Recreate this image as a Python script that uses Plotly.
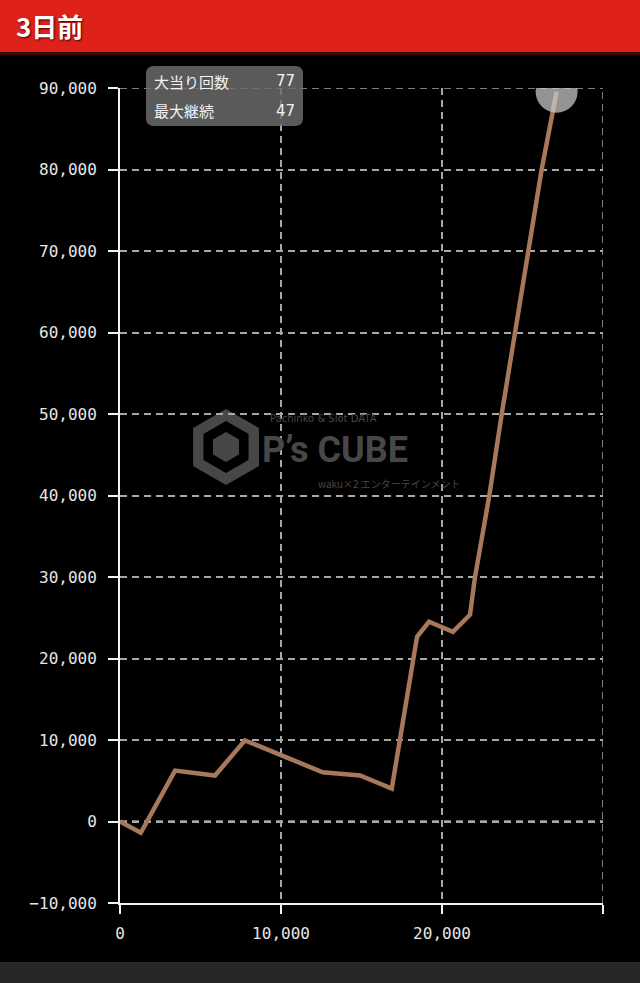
import plotly.graph_objects as go

# ---- data ----
games = [0, 1290, 3420, 5900, 7760, 12590, 14910, 16880, 18450, 19190, 20680, 21740,
         22050, 22940, 23710, 24530, 25340, 26190, 27120]
balance = [0, -1380, 6250, 5640, 9960, 6040, 5640, 4040, 22670, 24510, 23280, 25370,
           30000, 40000, 50000, 60000, 70000, 80000, 89550]
title_text = "3日前"
info_labels = ["大当り回数", "最大継続"]
info_values = ["77", "47"]
x_ticks = [0, 10000, 20000, 30000]
x_tick_text = ["0", "10,000", "20,000", ""]
y_ticks = [-10000, 0, 10000, 20000, 30000, 40000, 50000, 60000, 70000, 80000, 90000]
x_max, y_min, y_max = 30000, -10000, 90000

W, H = 640, 983
L, R, T, B = 120, 603, 88, 903


def px(p):
    return (p - L) / (R - L)


def py(p):
    return (B - p) / (B - T)


def rrect(x0, y0, x1, y1, r):
    rx = r / (R - L)
    ry = r / (B - T)
    X0, X1 = px(x0), px(x1)
    Y0, Y1 = py(y0), py(y1)
    return (f"M {X0+rx},{Y0} L {X1-rx},{Y0} Q {X1},{Y0} {X1},{Y0-ry} "
            f"L {X1},{Y1+ry} Q {X1},{Y1} {X1-rx},{Y1} L {X0+rx},{Y1} "
            f"Q {X0},{Y1} {X0},{Y1+ry} L {X0},{Y0-ry} Q {X0},{Y0} {X0+rx},{Y0} Z")


def hexagon(cx, cy, rad):
    import math
    pts = []
    for k in range(6):
        a = math.radians(90 + 60 * k)
        pts.append((px(cx + rad * math.cos(a)), py(cy - rad * math.sin(a))))
    return "M " + " L ".join(f"{a},{b}" for a, b in pts) + " Z"


fig = go.Figure()
fig.add_trace(go.Scatter(
    x=games, y=balance, mode="lines",
    line=dict(color="#a8785a", width=4.5),
    hoverinfo="skip", showlegend=False,
))
fig.add_trace(go.Scatter(
    x=[games[-1]], y=[balance[-1]], mode="markers", cliponaxis=True,
    marker=dict(size=42, color="rgba(205,205,205,0.72)", line=dict(width=0)),
    hoverinfo="skip", showlegend=False,
))

grid_col = "#a8a8a8"
axis_font = dict(family="DejaVu Sans Mono", size=16, color="#e6e6e6")
fig.update_xaxes(
    range=[0, x_max], tickvals=x_ticks, ticktext=x_tick_text,
    showgrid=True, gridcolor=grid_col, gridwidth=1.5, griddash="7px,5px",
    zeroline=False, showline=True, linecolor="#f2f2f2", linewidth=2,
    ticks="outside", ticklen=9, tickwidth=2, tickcolor="#f2f2f2",
    tickfont=axis_font, ticklabelstandoff=6, fixedrange=True,
)
fig.update_yaxes(
    range=[y_min, y_max], tickvals=y_ticks, tickformat=",",
    showgrid=True, gridcolor=grid_col, gridwidth=1.5, griddash="7px,5px",
    zeroline=False, showline=True, linecolor="#f2f2f2", linewidth=2,
    ticks="outside", ticklen=10, tickwidth=2, tickcolor="#f2f2f2",
    tickfont=axis_font, ticklabelstandoff=8, fixedrange=True,
)

wm = "#474747"
shapes = [
    dict(type="rect", xref="paper", yref="paper", x0=px(0), x1=px(W), y0=py(52), y1=py(0),
         fillcolor="#df2219", line=dict(width=0), layer="above"),
    dict(type="rect", xref="paper", yref="paper", x0=px(0), x1=px(W), y0=py(55), y1=py(52),
         fillcolor="#3a0a08", line=dict(width=0), layer="above"),
    # keep the end marker clipped at the top of the plot area
    dict(type="rect", xref="paper", yref="paper", x0=px(520), x1=px(600), y0=py(87.2), y1=py(55),
         fillcolor="#000000", line=dict(width=0), layer="above"),
    dict(type="rect", xref="paper", yref="paper", x0=px(0), x1=px(W), y0=py(H), y1=py(962),
         fillcolor="#272727", line=dict(width=0), layer="above"),
    # grid lines at the range edges (plotly omits them)
    dict(type="line", xref="paper", yref="y", x0=0, x1=1, y0=y_max, y1=y_max,
         line=dict(color=grid_col, width=1.5, dash="7px,5px"), layer="below"),
    dict(type="line", xref="x", yref="paper", x0=x_max, x1=x_max, y0=0, y1=1,
         line=dict(color=grid_col, width=1.5, dash="7px,5px"), layer="below"),
    dict(type="line", xref="paper", yref="y", x0=0, x1=1, y0=0, y1=0,
         line=dict(color="#f0f0f0", width=2, dash="7px,5px"), layer="below"),
    dict(type="path", xref="paper", yref="paper", path=hexagon(226, 447, 38),
         fillcolor=wm, line=dict(width=0), layer="below"),
    dict(type="path", xref="paper", yref="paper", path=hexagon(226, 447, 26),
         fillcolor="#000000", line=dict(width=0), layer="below"),
    dict(type="path", xref="paper", yref="paper", path=hexagon(226, 447, 15),
         fillcolor=wm, line=dict(width=0), layer="below"),
    dict(type="path", xref="paper", yref="paper", path=rrect(146, 66, 303, 126, 8),
         fillcolor="rgba(110,110,110,0.82)", line=dict(width=0), layer="above"),
]

annotations = [
    dict(text=title_text, xref="paper", yref="paper", x=px(14), y=py(26),
         xanchor="left", yanchor="middle", showarrow=False,
         font=dict(family="Noto Sans CJK JP", size=26, color="#ffffff", weight="bold",
                   shadow="1px 1px 2px #400000")),
    dict(text="P’s CUBE", xref="paper", yref="paper", x=px(260), y=py(450),
         xanchor="left", yanchor="middle", showarrow=False,
         font=dict(family="Roboto", size=36, color=wm, weight="bold")),
    dict(text="Pachinko & Slot DATA", xref="paper", yref="paper", x=px(268), y=py(418),
         xanchor="left", yanchor="middle", showarrow=False,
         font=dict(family="DejaVu Sans", size=10, color=wm)),
    dict(text="waku×2 エンターテインメント", xref="paper", yref="paper", x=px(316), y=py(483),
         xanchor="left", yanchor="middle", showarrow=False,
         font=dict(family="Noto Sans CJK JP", size=10, color=wm)),
]
for i, (lab, val) in enumerate(zip(info_labels, info_values)):
    yy = 81 + i * 30
    annotations.append(dict(text=lab, xref="paper", yref="paper", x=px(152), y=py(yy),
                            xanchor="left", yanchor="middle", showarrow=False,
                            font=dict(family="Noto Sans CJK JP", size=15, color="#f2f2f2")))
    annotations.append(dict(text=val, xref="paper", yref="paper", x=px(297), y=py(yy),
                            xanchor="right", yanchor="middle", showarrow=False,
                            font=dict(family="DejaVu Sans", size=15, color="#f2f2f2")))

fig.update_layout(
    width=W, height=H,
    margin=dict(l=L, r=W - R, t=T, b=H - B),
    paper_bgcolor="#000000", plot_bgcolor="#000000",
    shapes=shapes, annotations=annotations,
    showlegend=False,
)

fig.write_html(
    "out.html",
    config={"displayModeBar": False},
    post_script="document.body.style.margin='0';document.body.style.overflow='hidden';",
)
